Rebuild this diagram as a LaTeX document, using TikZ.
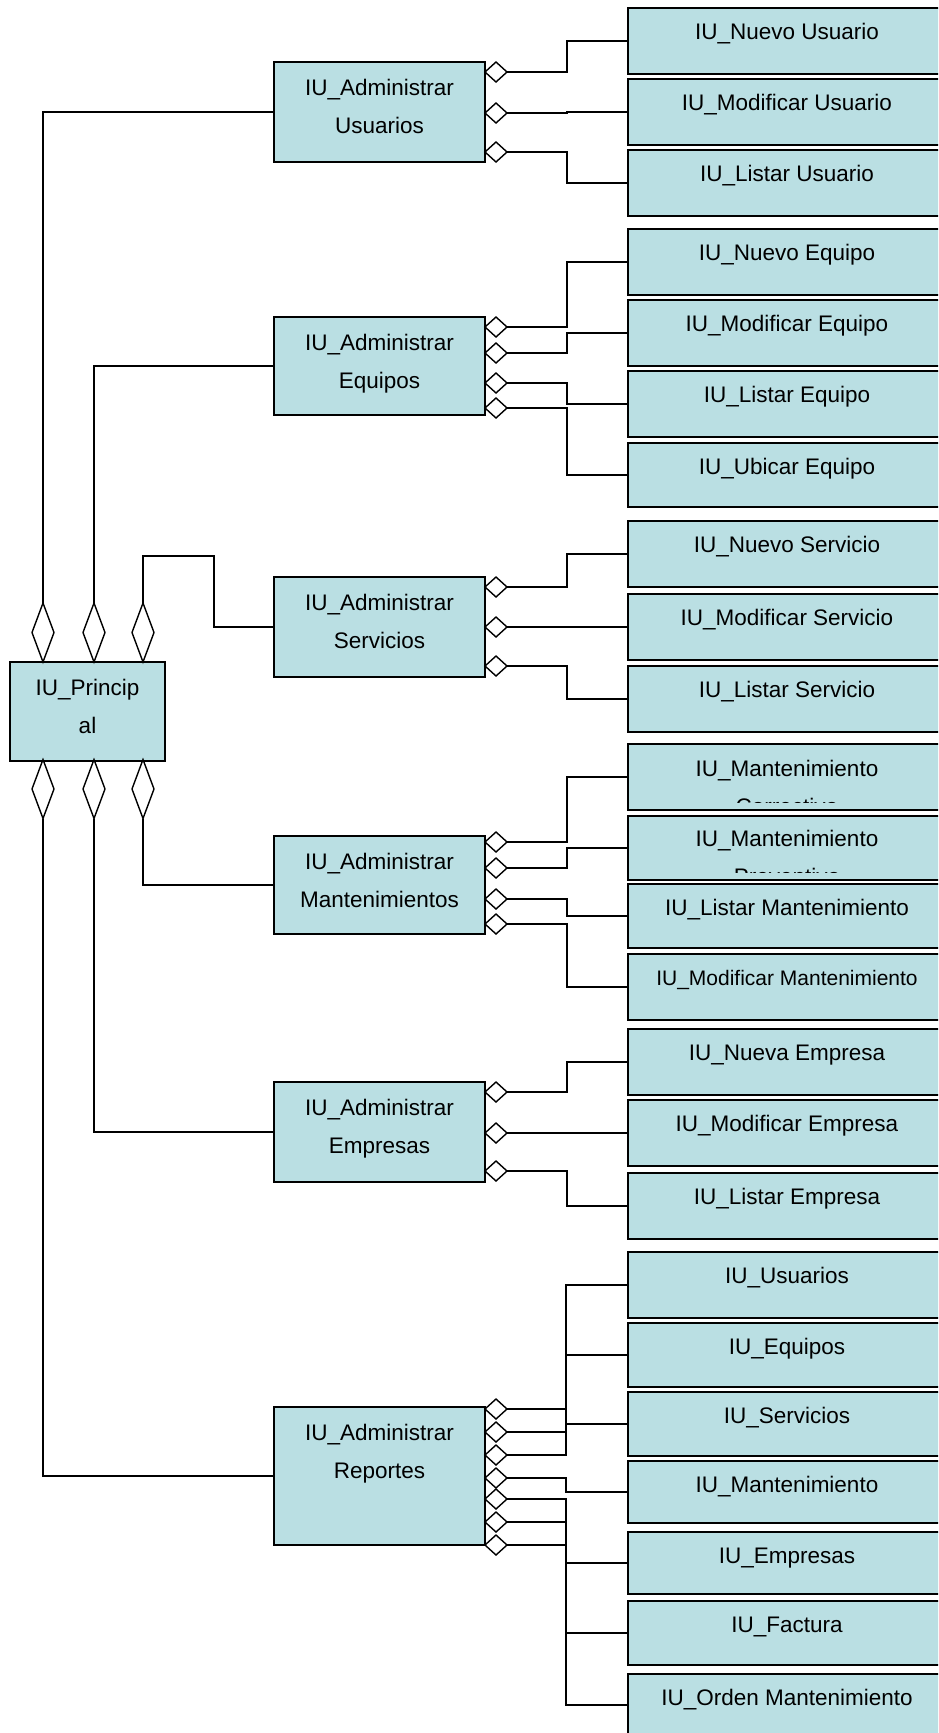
\documentclass[tikz,border=0pt]{standalone}
\usepackage{fontspec}
\setmainfont{Liberation Sans}
\usetikzlibrary{shapes.geometric}
\definecolor{boxfill}{RGB}{186,223,227}
\tikzset{
  uibox/.style={rectangle, draw=black, line width=2pt, fill=boxfill,
    inner sep=0pt, outer sep=0pt, anchor=north west},
  adminbox/.style={uibox, minimum width=211pt},
  viewbox/.style={uibox, minimum width=318pt},
  lbl/.style={font=\fontsize{22.5}{38}\selectfont, align=center,
    anchor=base, inner sep=0pt, outer sep=0pt},
  hagg/.style={diamond, draw=black, line width=1.4pt, fill=white,
    minimum width=22pt, minimum height=20pt, inner sep=0pt, outer sep=0pt},
  vagg/.style={hagg, minimum width=22pt, minimum height=59pt},
  conn/.style={draw=black, line width=1.8pt},
}
% a screen box on the right: name, top, height, caption
\newcommand{\viewnode}[4]{%
  \node[viewbox, minimum height=#3pt] (#1) at (628,#2) {};
  \node[lbl] (#1-t) at ([yshift=-31.5pt]#1.north) {#4};}
% an administration box in the middle column: name, top, height, two-line caption
% (the base anchor of a two-line caption sits on its second line)
\newcommand{\adminnode}[4]{%
  \node[adminbox, minimum height=#3pt] (#1) at (274,#2) {};
  \node[lbl] (#1-t) at ([yshift=-71pt]#1.north) {#4};}
% aggregation diamond on the right side of an administration box
\newcommand{\aggnode}[2]{\node[hagg] (#1) at (496,#2) {};}

\begin{document}
\begin{tikzpicture}[x=1pt, y=-1pt]
\clip (0,0) rectangle (938,1733);

% ---- main window ----
\node[uibox, minimum width=155pt, minimum height=99pt] (pr) at (10,662) {};
\node[lbl] (pr-t) at ([yshift=-71pt]pr.north) {IU\_Princip\\al};
\node[vagg] (pu1) at (43,632.5) {};
\node[vagg] (pu2) at (94,632.5) {};
\node[vagg] (pu3) at (143,632.5) {};
\node[vagg] (pl1) at (43,789) {};
\node[vagg] (pl2) at (94,789) {};
\node[vagg] (pl3) at (143,789) {};

% ---- administration windows ----
\adminnode{au}{62}{100}{IU\_Administrar\\Usuarios}
\adminnode{ae}{317}{98}{IU\_Administrar\\Equipos}
\adminnode{as}{577}{100}{IU\_Administrar\\Servicios}
\adminnode{am}{836}{98}{IU\_Administrar\\Mantenimientos}
\adminnode{aem}{1082}{100}{IU\_Administrar\\Empresas}
\adminnode{ar}{1407}{138}{IU\_Administrar\\Reportes}

% ---- user screens ----
\viewnode{nu}{8}{66}{IU\_Nuevo Usuario}
\viewnode{mu}{79}{66}{IU\_Modificar Usuario}
\viewnode{lu}{150}{66}{IU\_Listar Usuario}
% ---- equipment screens ----
\viewnode{ne}{229}{66}{IU\_Nuevo Equipo}
\viewnode{me}{300}{66}{IU\_Modificar Equipo}
\viewnode{le}{371}{66}{IU\_Listar Equipo}
\viewnode{ube}{443}{64}{IU\_Ubicar Equipo}
% ---- service screens ----
\viewnode{ns}{521}{66}{IU\_Nuevo Servicio}
\viewnode{ms}{594}{66}{IU\_Modificar Servicio}
\viewnode{ls}{666}{66}{IU\_Listar Servicio}
% ---- maintenance screens (two captions run past their box) ----
\node[viewbox, minimum height=66pt] (mc) at (628,744) {};
\begin{scope}
  \clip ([yshift=8pt]mc.south west) rectangle (mc.north east);
  \node[lbl] (mc-t) at ([yshift=-70pt]mc.north) {IU\_Mantenimiento\\Correctivo};
\end{scope}
\node[viewbox, minimum height=64pt] (mp) at (628,816) {};
\begin{scope}
  \clip ([yshift=8pt]mp.south west) rectangle (mp.north east);
  \node[lbl] (mp-t) at ([yshift=-68pt]mp.north) {IU\_Mantenimiento\\Preventivo};
\end{scope}
\viewnode{lm}{884}{64}{IU\_Listar Mantenimiento}
\viewnode{mm}{954}{66}{\fontsize{21}{38}\selectfont IU\_Modificar Mantenimiento}
% ---- company screens ----
\viewnode{nem}{1029}{66}{IU\_Nueva Empresa}
\viewnode{mem}{1100}{66}{IU\_Modificar Empresa}
\viewnode{lem}{1173}{66}{IU\_Listar Empresa}
% ---- report screens ----
\viewnode{rpu}{1252}{66}{IU\_Usuarios}
\viewnode{rpe}{1323}{64}{IU\_Equipos}
\viewnode{rps}{1392}{64}{IU\_Servicios}
\viewnode{rpm}{1461}{62}{IU\_Mantenimiento}
\viewnode{rpem}{1532}{62}{IU\_Empresas}
\viewnode{rpf}{1601}{64}{IU\_Factura}
\viewnode{rpo}{1674}{62}{IU\_Orden Mantenimiento}

% ---- aggregation diamonds ----
\aggnode{du1}{72}  \aggnode{du2}{113} \aggnode{du3}{152}
\aggnode{de1}{327} \aggnode{de2}{353} \aggnode{de3}{383} \aggnode{de4}{408}
\aggnode{ds1}{587} \aggnode{ds2}{627} \aggnode{ds3}{666}
\aggnode{dm1}{842} \aggnode{dm2}{868} \aggnode{dm3}{899} \aggnode{dm4}{924}
\aggnode{dc1}{1092} \aggnode{dc2}{1133} \aggnode{dc3}{1171}
\aggnode{dr1}{1409} \aggnode{dr2}{1432} \aggnode{dr3}{1455} \aggnode{dr4}{1478}
\aggnode{dr5}{1499} \aggnode{dr6}{1522} \aggnode{dr7}{1545}

% ---- main window to administration windows ----
\draw[conn] (pu1.north) |- (au.west);
\draw[conn] (pu2.north) |- (ae.west);
\draw[conn] (pu3.north) -- ++(0,-47) -- ++(71,0) |- (as.west);
\draw[conn] (pl3.south) |- (am.west);
\draw[conn] (pl2.south) |- (aem.west);
\draw[conn] (pl1.south) |- (ar.west);

% ---- administration windows to screens ----
\draw[conn] (du1.east) -- ++(60,0) |- (nu.west);
\draw[conn] (du2.east) -- ++(60,0) |- (mu.west);
\draw[conn] (du3.east) -- ++(60,0) |- (lu.west);

\draw[conn] (de1.east) -- ++(60,0) |- (ne.west);
\draw[conn] (de2.east) -- ++(60,0) |- (me.west);
\draw[conn] (de3.east) -- ++(60,0) |- (le.west);
\draw[conn] (de4.east) -- ++(60,0) |- (ube.west);

\draw[conn] (ds1.east) -- ++(60,0) |- (ns.west);
\draw[conn] (ds2.east) -- ++(60,0) |- (ms.west);
\draw[conn] (ds3.east) -- ++(60,0) |- (ls.west);

\draw[conn] (dm1.east) -- ++(60,0) |- (mc.west);
\draw[conn] (dm2.east) -- ++(60,0) |- (mp.west);
\draw[conn] (dm3.east) -- ++(60,0) |- (lm.west);
\draw[conn] (dm4.east) -- ++(60,0) |- (mm.west);

\draw[conn] (dc1.east) -- ++(60,0) |- (nem.west);
\draw[conn] (dc2.east) -- ++(60,0) |- (mem.west);
\draw[conn] (dc3.east) -- ++(60,0) |- (lem.west);

% reports: two shared vertical buses
\draw[conn] (dr1.east) -- ++(59,0);
\draw[conn] (dr2.east) -- ++(59,0);
\draw[conn] (dr3.east) -- ++(59,0) |- (rpu.west);
\draw[conn] (rpe.west) -- ++(-62,0);
\draw[conn] (rps.west) -- ++(-62,0);
\draw[conn] (dr4.east) -- ++(59,0) |- (rpm.west);
\draw[conn] (dr5.east) -- ++(59,0) |- (rpo.west);
\draw[conn] (dr6.east) -- ++(59,0);
\draw[conn] (dr7.east) -- ++(59,0);
\draw[conn] (rpem.west) -- ++(-62,0);
\draw[conn] (rpf.west) -- ++(-62,0);
\end{tikzpicture}
\end{document}
